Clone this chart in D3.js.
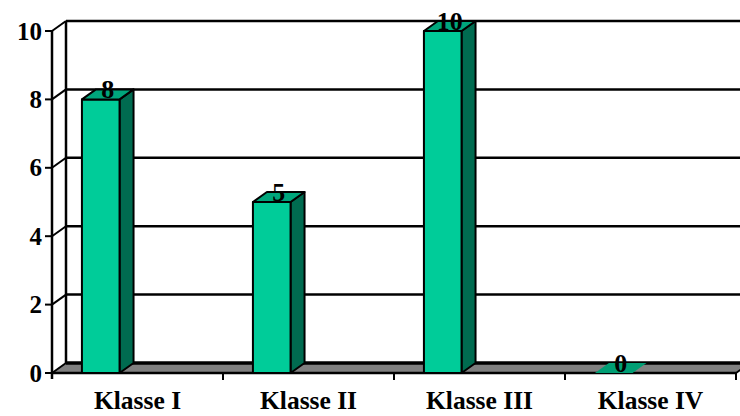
<!DOCTYPE html>
<html>
<head>
<meta charset="utf-8">
<script src="https://cdn.jsdelivr.net/npm/d3@7"></script>
<style>
  html,body{margin:0;padding:0;background:#fff;}
  svg{display:block;}
</style>
</head>
<body>
<div id="chart"></div>
<script>
// data
const categories = ["Klasse I", "Klasse II", "Klasse III", "Klasse IV"];
const values = [8, 5, 10, 0];
const yTicks = [0, 2, 4, 6, 8, 10];

const W = 740, H = 416;
const DEPTH = {x: 14, y: -10};   // 3d offset front -> back
const FONT = "'Liberation Serif','Times New Roman',serif";
const COL = {front: "#00CC99", top: "#00A67C", side: "#006B50", floor: "#808080"};

const svg = d3.select("#chart").append("svg").attr("width", W).attr("height", H);

const x = d3.scaleBand().domain(categories).range([52, 736]);
const y = d3.scaleLinear().domain([0, 10]).range([373, 31]);
const bw = x.bandwidth();

// floor
const f0 = y(0);
svg.append("polygon")
  .attr("points", [[52, f0], [52 + DEPTH.x, f0 + DEPTH.y], [750, f0 + DEPTH.y], [736, f0]].join(" "))
  .attr("fill", COL.floor);
svg.append("line").attr("x1", 52 + DEPTH.x).attr("x2", W).attr("y1", f0 + DEPTH.y).attr("y2", f0 + DEPTH.y)
  .attr("stroke", "#000").attr("stroke-width", 3.5);
svg.append("line").attr("x1", 52).attr("x2", 736).attr("y1", f0).attr("y2", f0)
  .attr("stroke", "#000").attr("stroke-width", 2.5);
svg.append("line").attr("x1", 736).attr("x2", 750).attr("y1", f0).attr("y2", f0 + DEPTH.y)
  .attr("stroke", "#000").attr("stroke-width", 2);

// back wall gridlines + side diagonals
const grid = svg.append("g").attr("stroke", "#000").attr("stroke-width", 2.5);
yTicks.filter(v => v > 0).forEach(v => {
  grid.append("line").attr("x1", 52 + DEPTH.x).attr("x2", W)
    .attr("y1", y(v) + DEPTH.y).attr("y2", y(v) + DEPTH.y);
});
yTicks.forEach(v => {
  grid.append("line").attr("x1", 52).attr("x2", 52 + DEPTH.x)
    .attr("y1", y(v)).attr("y2", y(v) + DEPTH.y).attr("stroke-width", 2);
});
grid.append("line").attr("x1", 52 + DEPTH.x).attr("x2", 52 + DEPTH.x)
  .attr("y1", y(10) + DEPTH.y).attr("y2", y(0) + DEPTH.y);

// front y axis
const yAxis = svg.append("g");
yAxis.append("line").attr("x1", 52).attr("x2", 52).attr("y1", y(10)).attr("y2", y(0) + 6)
  .attr("stroke", "#000").attr("stroke-width", 2.5);
yTicks.forEach(v => {
  yAxis.append("line").attr("x1", 45).attr("x2", 52).attr("y1", y(v)).attr("y2", y(v))
    .attr("stroke", "#000").attr("stroke-width", 2);
  yAxis.append("text").attr("x", 42).attr("y", y(v)).attr("dy", "0.34em")
    .attr("text-anchor", "end").attr("font-family", FONT).attr("font-weight", "bold")
    .attr("font-size", 25).attr("fill", "#000").text(v);
});

// x axis ticks + labels
const xAxis = svg.append("g");
categories.forEach(c => {
  xAxis.append("line").attr("x1", x(c) + bw).attr("x2", x(c) + bw)
    .attr("y1", y(0)).attr("y2", y(0) + 7).attr("stroke", "#000").attr("stroke-width", 2);
  xAxis.append("text").attr("x", x(c) + bw / 2).attr("y", 409)
    .attr("text-anchor", "middle").attr("font-family", FONT).attr("font-weight", "bold")
    .attr("font-size", 25.5).attr("fill", "#000").text(c);
});

// 3d bars
const bars = svg.append("g").attr("stroke", "#000").attr("stroke-width", 2).attr("stroke-linejoin", "round");
categories.forEach((c, i) => {
  const v = values[i];
  const x0 = x(c) + bw * 0.175, x1 = x0 + bw * 0.22;
  const yt = y(v), yb = y(0);
  const dx = DEPTH.x, dy = DEPTH.y;
  if (v > 0) {
    bars.append("polygon").attr("fill", COL.side)
      .attr("points", [[x1, yt], [x1 + dx, yt + dy], [x1 + dx, yb + dy], [x1, yb]].join(" "));
    bars.append("rect").attr("fill", COL.front)
      .attr("x", x0).attr("y", yt).attr("width", x1 - x0).attr("height", yb - yt);
  }
  bars.append("polygon").attr("fill", v > 0 ? COL.top : "#009E74")
    .attr("stroke-width", v > 0 ? 2 : 0)
    .attr("points", [[x0, yt], [x0 + dx, yt + dy], [x1 + dx, yt + dy], [x1, yt]].join(" "));

  svg.append("text").attr("x", (x0 + x1) / 2 + dx / 2).attr("y", yt - 1)
    .attr("text-anchor", "middle").attr("font-family", FONT).attr("font-weight", "bold")
    .attr("font-size", 26).attr("fill", "#000").text(v);
});
</script>
</body>
</html>
